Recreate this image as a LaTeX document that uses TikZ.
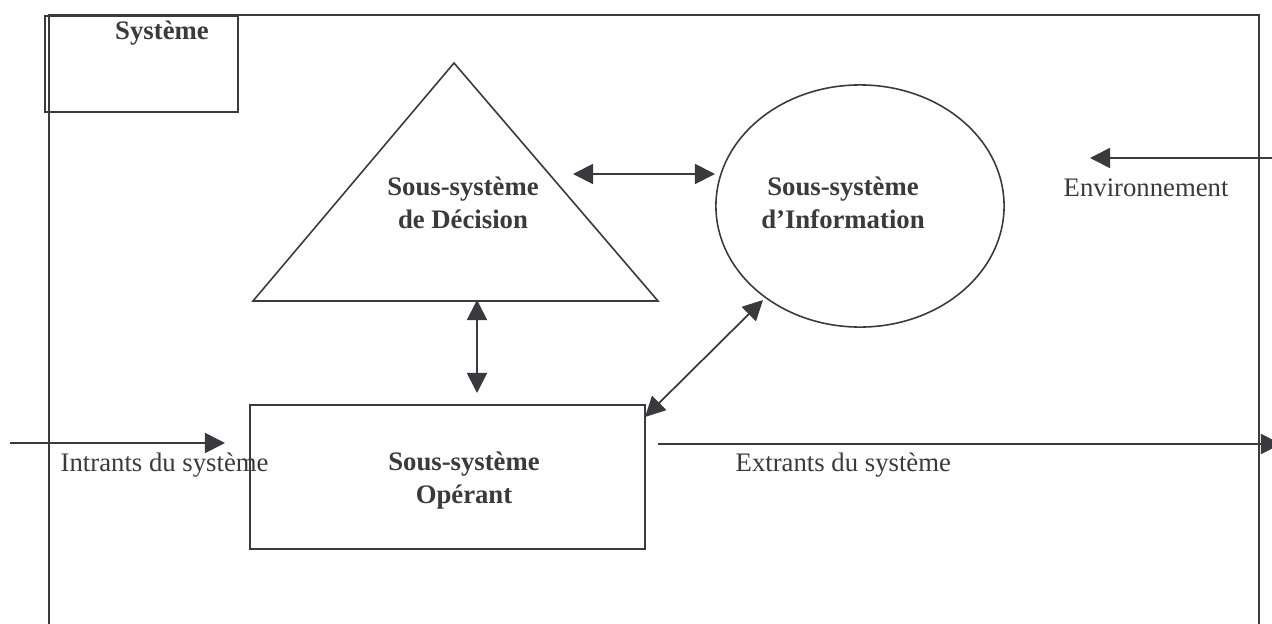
\documentclass[tikz,border=0pt]{standalone}
\usepackage{fontspec}
\setmainfont{Liberation Serif}
\usetikzlibrary{shapes.geometric,arrows.meta}
\definecolor{ink}{RGB}{58,58,62}

\begin{document}
\begin{tikzpicture}[x=0.01cm,y=-0.01cm,>={Triangle[length=2mm,width=2mm]}]
		\tikzstyle{frame}=[draw=ink, line width=0.5pt]
		\tikzstyle{outline}=[draw=ink, line width=0.45pt]
		\tikzstyle{title}=[text=ink, inner sep=0pt, align=center, font=\fontsize{7.6}{9.4}\selectfont\bfseries]
		\tikzstyle{caption}=[text=ink, inner sep=0pt, anchor=west, font=\fontsize{7.6}{9.4}\selectfont]
		\tikzstyle{edge}=[draw=ink, line width=0.5pt]

		\useasboundingbox (0,0) rectangle (1272,624);

		% cadre du systeme
		\draw[frame] (49,624) -- (49,15) -- (1259,15) -- (1259,624);
		\node [frame, rectangle, minimum width=1.93cm, minimum height=0.96cm, anchor=north west, inner sep=0pt] (sysbox) at (44,15) {};
		\node [title] (systitle) at (162,33) {Syst\`eme};

		% sous-systemes
		\draw[outline] (454,63) -- (658,301) -- (253,301) -- cycle;
		\node [title] (deci) at (463,203) {Sous-syst\`eme\\de D\'ecision};

		\node [outline, ellipse, minimum width=2.88cm, minimum height=2.42cm, inner sep=0pt] (info) at (860,206) {};
		\node [title] (infotext) at (843,203) {Sous-syst\`eme\\d'Information};

		\node [outline, rectangle, minimum width=3.95cm, minimum height=1.44cm, inner sep=0pt] (oper) at (447.5,477) {};
		\node [title] (opertext) at (464,481) {Sous-syst\`eme\\Op\'erant};

		% textes
		\node [caption] (intrants) at (60,465) {Intrants du syst\`eme};
		\node [caption] (extrants) at (735,465) {Extrants du syst\`eme};
		\node [caption] (env) at (1063,188) {Environnement};

		% extremites des fleches
		\coordinate (a1) at (573,174);
		\coordinate (a2) at (715,174);
		\coordinate (b1) at (477,300);
		\coordinate (b2) at (477,393);
		\coordinate (c1) at (645,417);
		\coordinate (c2) at (763,300);
		\coordinate (in1) at (10,443);
		\coordinate (in2) at (225,443);
		\coordinate (out1) at (658,444);
		\coordinate (out2) at (1281,444);
		\coordinate (env1) at (1272,158);
		\coordinate (env2) at (1090,158);

		\path[edge,<->] (a1) -- (a2);
		\path[edge,<->] (b1) -- (b2);
		\path[edge,<->] (c1) -- (c2);
		\path[edge,->] (in1) -- (in2);
		\path[edge,->] (out1) -- (out2);
		\path[edge,->] (env1) -- (env2);

	\end{tikzpicture}
\end{document}
